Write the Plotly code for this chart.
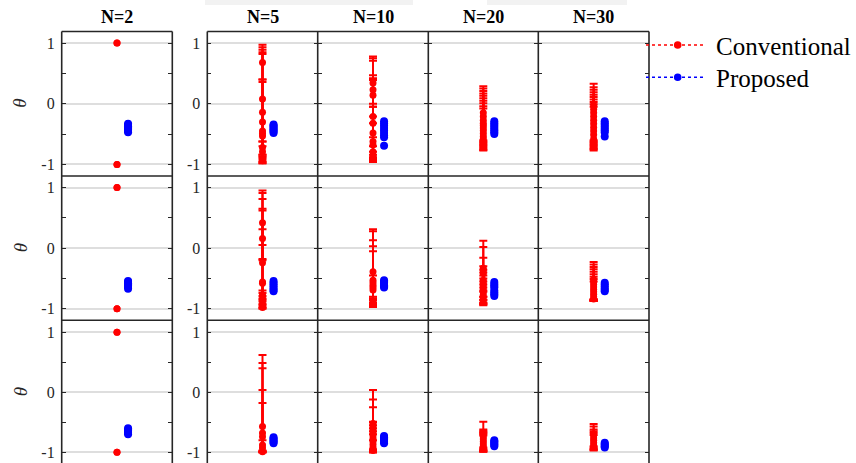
import plotly.graph_objects as go

# ---------------------------------------------------------------------------
# Data: estimated parameter theta for each sample size N (columns) and each
# scenario (rows).  "Conventional" points carry asymmetric error bars given by
# their upper and lower ends; "Proposed" points are plain estimates.
# ---------------------------------------------------------------------------
sample_sizes = ["N=2", "N=5", "N=10", "N=20", "N=30"]
x_conventional = 1.0
x_proposed = 1.2
tick_values = [-1, 0, 1]
tick_labels = ["-1", "0", "1"]
minor_tick_values = [-0.5, 0.5]

# Row 1
conv_mean_row1 = [
    [1.0, 1.0, -1.0, -1.0],
    [0.68, 0.08, -0.14, -0.30, -0.45, -0.49, -0.53, -0.72, -0.79, -0.94],
    [0.34, 0.23, 0.14, -0.21, -0.32, -0.48, -0.62, -0.68, -0.79, -0.86],
    [-0.15, -0.21, -0.27, -0.32, -0.36, -0.40, -0.44, -0.49, -0.54, -0.58],
    [-0.03, -0.09, -0.15, -0.21, -0.27, -0.33, -0.39, -0.45, -0.51, -0.58],
]
conv_upper_row1 = [
    [1.0, 1.0, -1.0, -1.0],
    [0.97, 0.93, 0.89, 0.85, 0.82, 0.40, 0.36, -0.62, -0.70, -0.88],
    [0.78, 0.75, 0.71, 0.47, 0.42, 0.39, 0.00, -0.05, -0.55, -0.70],
    [0.29, 0.25, 0.21, 0.17, 0.13, 0.09, 0.05, 0.01, -0.04, -0.08],
    [0.33, 0.27, 0.23, 0.19, 0.15, 0.11, 0.07, 0.03, -0.01, -0.05],
]
conv_lower_row1 = [
    [1.0, 1.0, -1.0, -1.0],
    [0.40, -0.84, -0.98, -0.95, -0.91, -0.87, -0.62, -0.84, -0.95, -0.98],
    [-0.05, -0.21, -0.32, -0.79, -0.84, -0.88, -0.91, -0.96, -0.93, -0.94],
    [-0.60, -0.64, -0.68, -0.72, -0.77, -0.62, -0.66, -0.70, -0.74, -0.76],
    [-0.62, -0.66, -0.70, -0.74, -0.77, -0.60, -0.64, -0.68, -0.72, -0.75],
]
prop_row1 = [
    [-0.33, -0.35, -0.37, -0.39, -0.41, -0.43, -0.45, -0.47],
    [-0.34, -0.36, -0.38, -0.40, -0.42, -0.44, -0.46, -0.48],
    [-0.29, -0.32, -0.36, -0.40, -0.44, -0.48, -0.52, -0.55, -0.69],
    [-0.29, -0.32, -0.35, -0.38, -0.41, -0.44, -0.47, -0.50],
    [-0.29, -0.32, -0.35, -0.38, -0.41, -0.44, -0.47, -0.54],
]

# Row 2
conv_mean_row2 = [
    [1.0, 1.0, -1.0, -1.0],
    [0.42, 0.16, -0.24, -0.56, -0.58, -0.77, -0.83, -0.88, -0.94, -0.98],
    [-0.39, -0.53, -0.57, -0.61, -0.65, -0.69, -0.88, -0.92],
    [-0.33, -0.37, -0.42, -0.53, -0.58, -0.62, -0.67, -0.72, -0.77, -0.82, -0.87],
    [-0.52, -0.56, -0.60, -0.64, -0.68, -0.72, -0.76, -0.80, -0.84],
]
conv_upper_row2 = [
    [1.0, 1.0, -1.0, -1.0],
    [0.95, 0.91, 0.81, 0.65, 0.62, 0.31, 0.05, -0.70, -0.85, -0.92],
    [0.31, 0.28, 0.13, 0.03, -0.05, -0.45, -0.83, -0.86],
    [0.12, 0.02, -0.16, -0.30, -0.355, -0.40, -0.45, -0.50, -0.55, -0.60, -0.65],
    [-0.23, -0.27, -0.31, -0.35, -0.39, -0.43, -0.47, -0.51, -0.55],
]
conv_lower_row2 = [
    [1.0, 1.0, -1.0, -1.0],
    [-0.18, -0.20, -0.74, -0.79, -0.83, -0.88, -0.94, -0.98, -0.98, -1.0],
    [-0.83, -0.90, -0.97, -0.85, -0.92, -0.80, -0.95, -0.97],
    [-0.80, -0.855, -0.90, -0.94, -0.70, -0.72, -0.80, -0.85, -0.90, -0.92, -0.93],
    [-0.86, -0.87, -0.85, -0.84, -0.86, -0.87, -0.85, -0.86, -0.87],
]
prop_row2 = [
    [-0.54, -0.56, -0.58, -0.60, -0.62, -0.64, -0.67],
    [-0.54, -0.57, -0.60, -0.63, -0.66, -0.69, -0.71],
    [-0.53, -0.55, -0.57, -0.59, -0.61, -0.63, -0.65],
    [-0.56, -0.59, -0.62, -0.65, -0.70, -0.73, -0.76, -0.79],
    [-0.57, -0.60, -0.63, -0.66, -0.69, -0.71],
]

# Row 3
conv_mean_row3 = [
    [1.0, 1.0, -1.0, -1.0],
    [-0.57, -0.68, -0.74, -0.88, -0.93, -0.99],
    [-0.52, -0.57, -0.62, -0.67, -0.72, -0.77, -0.82, -0.87, -0.92, -0.97],
    [-0.70, -0.74, -0.78, -0.82, -0.86, -0.90, -0.94],
    [-0.72, -0.76, -0.80, -0.84, -0.88, -0.92],
]
conv_upper_row3 = [
    [1.0, 1.0, -1.0, -1.0],
    [0.62, 0.49, 0.40, 0.04, -0.18, -0.80],
    [0.04, -0.12, -0.25, -0.49, -0.50, -0.55, -0.60, -0.65, -0.70, -0.80],
    [-0.49, -0.62, -0.64, -0.66, -0.68, -0.70, -0.72],
    [-0.53, -0.57, -0.62, -0.65, -0.68, -0.71],
]
conv_lower_row3 = [
    [1.0, 1.0, -1.0, -1.0],
    [-0.99, -0.98, -1.0, -0.97, -1.0, -1.0],
    [-0.98, -0.99, -0.97, -1.0, -0.95, -0.96, -0.98, -0.99, -1.0, -1.0],
    [-0.92, -0.94, -0.96, -0.97, -0.98, -0.99, -0.99],
    [-0.90, -0.92, -0.94, -0.95, -0.96, -0.97],
]
prop_row3 = [
    [-0.60, -0.62, -0.64, -0.66, -0.68, -0.70],
    [-0.75, -0.77, -0.79, -0.81, -0.83, -0.85],
    [-0.73, -0.75, -0.77, -0.79, -0.81, -0.83, -0.85],
    [-0.80, -0.82, -0.84, -0.86, -0.88, -0.90],
    [-0.84, -0.86, -0.88, -0.90, -0.92],
]

conv_mean = [conv_mean_row1, conv_mean_row2, conv_mean_row3]
conv_upper = [conv_upper_row1, conv_upper_row2, conv_upper_row3]
conv_lower = [conv_lower_row1, conv_lower_row2, conv_lower_row3]
prop_vals = [prop_row1, prop_row2, prop_row3]

# ---------------------------------------------------------------------------
# Layout geometry (pixels on a 856 x 463 canvas)
# ---------------------------------------------------------------------------
W, H = 856, 463
col_px = [(61.7, 172.3), (207.3, 317.7), (317.7, 428.3), (428.3, 538.3), (538.3, 649.0)]
row_px = [(31.5, 176.0), (176.0, 320.3), (320.3, 463.0)]
row_ranges = [[-1.19, 1.19], [-1.19, 1.19], [-1.178, 1.2]]

RED = "#ff0000"
BLUE = "#0000ff"
EDGE = "#262626"
GRID = "#dedede"
SERIF = "Liberation Serif, Times New Roman, serif"
FRAME_W = 1.6


def fx(px):
    return px / W


def fy(py):
    return 1 - py / H


fig = go.Figure()
layout_axes = {}

for r in range(3):
    for c in range(5):
        idx = r * 5 + c + 1
        xa = "x" if idx == 1 else f"x{idx}"
        ya = "y" if idx == 1 else f"y{idx}"

        mean = conv_mean[r][c]
        up = conv_upper[r][c]
        lo = conv_lower[r][c]
        plus = [u - m for u, m in zip(up, mean)]
        minus = [m - l for m, l in zip(mean, lo)]
        has_err = any(v > 0 for v in plus + minus)

        fig.add_trace(go.Scatter(
            x=[x_conventional] * len(mean), y=mean, mode="markers",
            marker=dict(color=RED, size=7),
            error_y=dict(type="data", symmetric=False, array=plus, arrayminus=minus,
                         color=RED, thickness=2, width=4, visible=has_err),
            name="Conventional", showlegend=False, xaxis=xa, yaxis=ya,
            hoverinfo="y",
        ))
        fig.add_trace(go.Scatter(
            x=[x_proposed] * len(prop_vals[r][c]), y=prop_vals[r][c], mode="markers",
            marker=dict(color=BLUE, size=8),
            name="Proposed", showlegend=False, xaxis=xa, yaxis=ya,
            hoverinfo="y",
        ))

        x0, x1 = col_px[c]
        top, bot = row_px[r]
        layout_axes["xaxis" if idx == 1 else f"xaxis{idx}"] = dict(
            domain=[fx(x0), fx(x1)], range=[0, 2], anchor=ya,
            showticklabels=False, ticks="", showgrid=False, zeroline=False,
            showline=False, fixedrange=True,
        )
        layout_axes["yaxis" if idx == 1 else f"yaxis{idx}"] = dict(
            domain=[max(fy(bot), 0), fy(top)], range=row_ranges[r], anchor=xa,
            tickmode="array", tickvals=tick_values, ticktext=tick_labels,
            showticklabels=c < 2, ticks="inside", ticklen=4, tickwidth=1.2,
            tickcolor=EDGE, ticklabelstandoff=6,
            minor=dict(tickmode="array", tickvals=minor_tick_values, ticks="inside",
                       ticklen=4, tickwidth=1.2, tickcolor=EDGE, showgrid=False),
            showgrid=True, gridcolor=GRID, gridwidth=1.5, zeroline=False,
            showline=False, mirror="ticks",
            tickfont=dict(family=SERIF, size=16, color="#262626"),
            fixedrange=True,
        )

shapes = []

# panel frames: one line per shared edge so neighbouring boxes share a border
groups = [(col_px[0][0], col_px[0][1]), (col_px[1][0], col_px[4][1])]
frame_top = row_px[0][0]
frame_bottom = row_px[2][1] + 2
for gx0, gx1 in groups:
    for top, _ in row_px:
        shapes.append(dict(type="line", xref="paper", yref="paper",
                           x0=fx(gx0), x1=fx(gx1), y0=fy(top), y1=fy(top),
                           line=dict(color=EDGE, width=FRAME_W)))
vertical_edges = [col_px[0][0], col_px[0][1]] + [col_px[c][0] for c in range(1, 5)] + [col_px[4][1]]
for vx in vertical_edges:
    shapes.append(dict(type="line", xref="paper", yref="paper",
                       x0=fx(vx), x1=fx(vx), y0=fy(frame_top), y1=fy(frame_bottom),
                       line=dict(color=EDGE, width=FRAME_W)))

annotations = []
# column titles
for c, label in enumerate(sample_sizes):
    x0, x1 = col_px[c]
    annotations.append(dict(
        x=fx((x0 + x1) / 2), y=fy(17), xref="paper", yref="paper",
        text=f"<b>{label}</b>", showarrow=False, xanchor="center", yanchor="middle",
        font=dict(family=SERIF, size=18, color="black"),
    ))
# theta labels, one per row, at the level of theta = 0
for r in range(3):
    top, bot = row_px[r]
    lo_r, hi_r = row_ranges[r]
    y_zero_px = top + (hi_r - 0) / (hi_r - lo_r) * (bot - top)
    annotations.append(dict(
        x=fx(20), y=fy(y_zero_px), xref="paper", yref="paper",
        text="<i>θ</i>", showarrow=False, textangle=-90,
        xanchor="center", yanchor="middle",
        font=dict(family=SERIF, size=19, color="#262626"),
    ))

# legend: dotted line with a marker, followed by the series name
legend_items = [("Conventional", RED, 45.0), ("Proposed", BLUE, 77.3)]
for name, color, ly in legend_items:
    shapes.append(dict(type="line", xref="paper", yref="paper",
                       x0=fx(646), x1=fx(706), y0=fy(ly), y1=fy(ly),
                       line=dict(color=color, width=1.5, dash="dot")))
    rad = 3.8
    shapes.append(dict(type="circle", xref="paper", yref="paper",
                       x0=fx(677.7 - rad), x1=fx(677.7 + rad),
                       y0=fy(ly + rad), y1=fy(ly - rad),
                       fillcolor=color, line=dict(color=color, width=0)))
    annotations.append(dict(
        x=fx(714), y=fy(ly + 1), xref="paper", yref="paper", text=name,
        showarrow=False, xanchor="left", yanchor="middle",
        font=dict(family=SERIF, size=25, color="black"),
    ))

# faint background bands along the top edge
for bx0, bx1 in [(205, 413), (487, 627)]:
    shapes.append(dict(type="rect", xref="paper", yref="paper", layer="below",
                       x0=fx(bx0), x1=fx(bx1), y0=fy(5), y1=fy(0),
                       fillcolor="#f2f2f2", line=dict(width=0)))

fig.update_layout(
    width=W, height=H,
    margin=dict(l=0, r=0, t=0, b=0),
    paper_bgcolor="white", plot_bgcolor="white",
    showlegend=False,
    annotations=annotations,
    shapes=shapes,
    **layout_axes,
)

fig.write_html("out.html")
